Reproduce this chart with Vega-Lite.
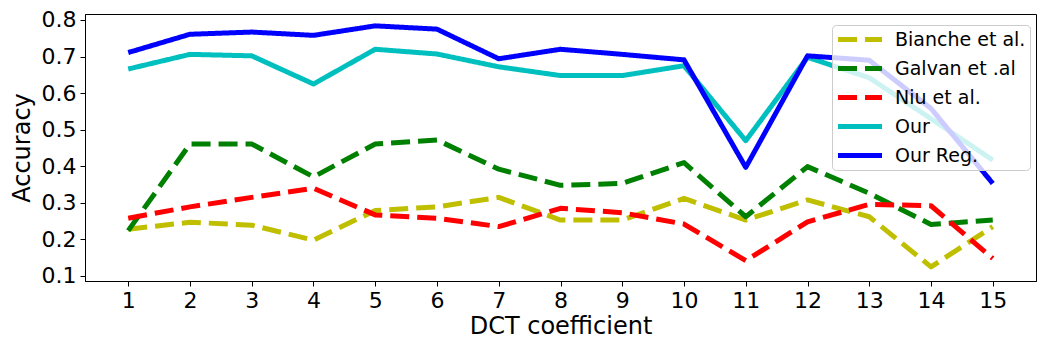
{
  "$schema": "https://vega.github.io/schema/vega-lite/v6.json",
  "width": 951,
  "height": 267,
  "autosize": {"type": "none"},
  "padding": {"left": 85, "top": 14, "right": 14, "bottom": 69},
  "background": "white",
  "config": {
    "font": "DejaVu Sans",
    "view": {"stroke": "#000000", "strokeWidth": 1},
    "axis": {
      "grid": false,
      "domainColor": "#000000",
      "tickColor": "#000000",
      "labelColor": "#000000",
      "titleColor": "#000000",
      "labelFontSize": 22,
      "titleFontSize": 24,
      "titleFontWeight": "normal",
      "tickSize": 5,
      "labelPadding": 4
    }
  },
  "data": {
    "values": [
      {"method": "Bianche et al.", "x": 1, "acc": 0.228},
      {"method": "Bianche et al.", "x": 2, "acc": 0.247},
      {"method": "Bianche et al.", "x": 3, "acc": 0.239},
      {"method": "Bianche et al.", "x": 4, "acc": 0.198},
      {"method": "Bianche et al.", "x": 5, "acc": 0.279},
      {"method": "Bianche et al.", "x": 6, "acc": 0.289},
      {"method": "Bianche et al.", "x": 7, "acc": 0.315},
      {"method": "Bianche et al.", "x": 8, "acc": 0.253},
      {"method": "Bianche et al.", "x": 9, "acc": 0.253},
      {"method": "Bianche et al.", "x": 10, "acc": 0.312},
      {"method": "Bianche et al.", "x": 11, "acc": 0.253},
      {"method": "Bianche et al.", "x": 12, "acc": 0.308},
      {"method": "Bianche et al.", "x": 13, "acc": 0.262},
      {"method": "Bianche et al.", "x": 14, "acc": 0.125},
      {"method": "Bianche et al.", "x": 15, "acc": 0.235},
      {"method": "Galvan et .al", "x": 1, "acc": 0.224},
      {"method": "Galvan et .al", "x": 2, "acc": 0.461},
      {"method": "Galvan et .al", "x": 3, "acc": 0.461},
      {"method": "Galvan et .al", "x": 4, "acc": 0.371},
      {"method": "Galvan et .al", "x": 5, "acc": 0.461},
      {"method": "Galvan et .al", "x": 6, "acc": 0.472},
      {"method": "Galvan et .al", "x": 7, "acc": 0.392},
      {"method": "Galvan et .al", "x": 8, "acc": 0.348},
      {"method": "Galvan et .al", "x": 9, "acc": 0.353},
      {"method": "Galvan et .al", "x": 10, "acc": 0.410},
      {"method": "Galvan et .al", "x": 11, "acc": 0.262},
      {"method": "Galvan et .al", "x": 12, "acc": 0.399},
      {"method": "Galvan et .al", "x": 13, "acc": 0.326},
      {"method": "Galvan et .al", "x": 14, "acc": 0.241},
      {"method": "Galvan et .al", "x": 15, "acc": 0.253},
      {"method": "Niu et al.", "x": 1, "acc": 0.258},
      {"method": "Niu et al.", "x": 2, "acc": 0.289},
      {"method": "Niu et al.", "x": 3, "acc": 0.315},
      {"method": "Niu et al.", "x": 4, "acc": 0.340},
      {"method": "Niu et al.", "x": 5, "acc": 0.267},
      {"method": "Niu et al.", "x": 6, "acc": 0.258},
      {"method": "Niu et al.", "x": 7, "acc": 0.235},
      {"method": "Niu et al.", "x": 8, "acc": 0.285},
      {"method": "Niu et al.", "x": 9, "acc": 0.273},
      {"method": "Niu et al.", "x": 10, "acc": 0.242},
      {"method": "Niu et al.", "x": 11, "acc": 0.142},
      {"method": "Niu et al.", "x": 12, "acc": 0.248},
      {"method": "Niu et al.", "x": 13, "acc": 0.296},
      {"method": "Niu et al.", "x": 14, "acc": 0.292},
      {"method": "Niu et al.", "x": 15, "acc": 0.148},
      {"method": "Our", "x": 1, "acc": 0.666},
      {"method": "Our", "x": 2, "acc": 0.706},
      {"method": "Our", "x": 3, "acc": 0.702},
      {"method": "Our", "x": 4, "acc": 0.625},
      {"method": "Our", "x": 5, "acc": 0.720},
      {"method": "Our", "x": 6, "acc": 0.707},
      {"method": "Our", "x": 7, "acc": 0.672},
      {"method": "Our", "x": 8, "acc": 0.648},
      {"method": "Our", "x": 9, "acc": 0.648},
      {"method": "Our", "x": 10, "acc": 0.675},
      {"method": "Our", "x": 11, "acc": 0.470},
      {"method": "Our", "x": 12, "acc": 0.698},
      {"method": "Our", "x": 13, "acc": 0.642},
      {"method": "Our", "x": 14, "acc": 0.530},
      {"method": "Our", "x": 15, "acc": 0.417},
      {"method": "Our Reg.", "x": 1, "acc": 0.711},
      {"method": "Our Reg.", "x": 2, "acc": 0.761},
      {"method": "Our Reg.", "x": 3, "acc": 0.767},
      {"method": "Our Reg.", "x": 4, "acc": 0.758},
      {"method": "Our Reg.", "x": 5, "acc": 0.784},
      {"method": "Our Reg.", "x": 6, "acc": 0.775},
      {"method": "Our Reg.", "x": 7, "acc": 0.694},
      {"method": "Our Reg.", "x": 8, "acc": 0.720},
      {"method": "Our Reg.", "x": 9, "acc": 0.706},
      {"method": "Our Reg.", "x": 10, "acc": 0.691},
      {"method": "Our Reg.", "x": 11, "acc": 0.397},
      {"method": "Our Reg.", "x": 12, "acc": 0.702},
      {"method": "Our Reg.", "x": 13, "acc": 0.690},
      {"method": "Our Reg.", "x": 14, "acc": 0.558},
      {"method": "Our Reg.", "x": 15, "acc": 0.353}
    ]
  },
  "mark": {"type": "line", "strokeWidth": 5, "strokeCap": "butt", "strokeJoin": "round"},
  "encoding": {
    "x": {
      "field": "x",
      "type": "quantitative",
      "scale": {"domain": [0.3, 15.7], "nice": false, "zero": false},
      "axis": {
        "title": "DCT coefficient",
        "values": [1, 2, 3, 4, 5, 6, 7, 8, 9, 10, 11, 12, 13, 14, 15],
        "format": "d",
        "titlePadding": 3
      }
    },
    "y": {
      "field": "acc",
      "type": "quantitative",
      "scale": {"domain": [0.0863, 0.8164], "nice": false, "zero": false},
      "axis": {
        "title": "Accuracy",
        "values": [0.1, 0.2, 0.3, 0.4, 0.5, 0.6, 0.7, 0.8],
        "format": ".1f",
        "titlePadding": 7
      }
    },
    "color": {
      "field": "method",
      "type": "nominal",
      "scale": {
        "domain": ["Bianche et al.", "Galvan et .al", "Niu et al.", "Our", "Our Reg."],
        "range": ["#bfbf00", "#008000", "#ff0000", "#00bfbf", "#0000ff"]
      },
      "legend": {
        "orient": "none",
        "legendX": 747,
        "legendY": 11,
        "title": null,
        "symbolType": "M-1.06,0H4.44",
        "symbolSize": 256,
        "symbolStrokeWidth": 5,
        "labelFontSize": 19,
        "labelColor": "#000000",
        "labelOffset": 38,
        "labelLimit": 300,
        "fillColor": "rgba(255,255,255,0.8)",
        "strokeColor": "#cccccc",
        "cornerRadius": 4,
        "padding": 4,
        "rowPadding": 8
      }
    },
    "strokeDash": {
      "field": "method",
      "type": "nominal",
      "scale": {
        "domain": ["Bianche et al.", "Galvan et .al", "Niu et al.", "Our", "Our Reg."],
        "range": [[19, 8], [19, 8], [19, 8], [1, 0], [1, 0]]
      }
    }
  }
}
